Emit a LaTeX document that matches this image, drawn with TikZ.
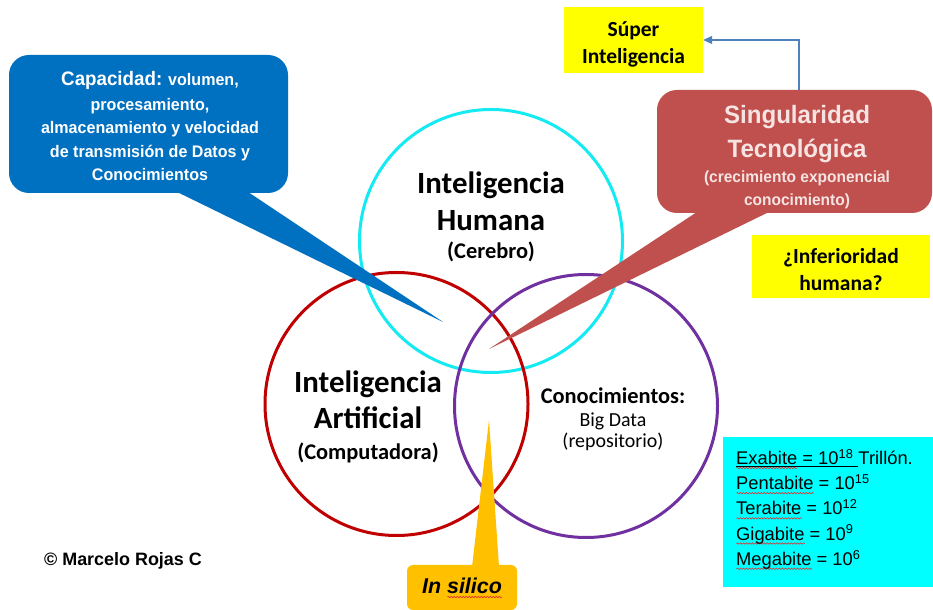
\documentclass[tikz,border=0pt]{standalone}
\usepackage{fontspec}
\setmainfont{Carlito}
\newfontfamily\arial{Liberation Sans}
\newfontfamily\arialn{Liberation Sans}[FakeStretch=0.96]
\usetikzlibrary{arrows.meta,decorations.pathmorphing}

\definecolor{cyanring}{HTML}{14EAF2}
\definecolor{redring}{HTML}{C00000}
\definecolor{purplering}{HTML}{7030A0}
\definecolor{capblue}{HTML}{0070C0}
\definecolor{singred}{HTML}{C0504D}
\definecolor{singtext}{HTML}{F6E4E3}
\definecolor{notebox}{HTML}{FFFF00}
\definecolor{databox}{HTML}{00FFFF}
\definecolor{silicobox}{HTML}{FFC000}
\definecolor{linkblue}{HTML}{4F81BD}
\definecolor{spellred}{HTML}{E03030}

\newcommand\fsz[2]{\fontsize{#1}{#2}\selectfont}
\newlength\spellw
\newcommand\spell[1]{\settowidth\spellw{#1}\rlap{\tikz[baseline=0pt]\draw[spellred,line width=0.6bp,decorate,
  decoration={snake,amplitude=0.7bp,segment length=3bp}] (0bp,-3.5bp) -- (\spellw,-3.5bp);}#1}
\newcommand\uline[1]{\settowidth\spellw{#1}\rlap{\rule[-2.5bp]{\spellw}{0.8bp}}#1}

\tikzset{
  ring/.style={circle,minimum size=263bp,inner sep=0pt,line width=3bp},
  bubble/.style={rounded corners=20bp,inner sep=0pt},
  notefill/.style={fill=notebox,inner sep=0pt,align=center,font=\bfseries\fsz{21.6}{26.5}},
}

\begin{document}
\begin{tikzpicture}
  %%
  \useasboundingbox[fill=white] (0bp,0bp) rectangle (933bp,610bp);
  % rings
  \node (Humana) at (491bp,369bp) [ring,draw=cyanring] {};
  \node (Artificial) at (396.5bp,206bp) [ring,draw=redring] {};
  \node (Datos) at (586bp,204bp) [ring,draw=purplering] {};
  \node (HumanaTxt) at (491bp,393bp) [align=center,inner sep=0pt,font=\bfseries\fsz{31}{37}]
    {Inteligencia\\Humana\\[-9bp]{\fsz{22.5}{27}(Cerebro)}};
  \node (ArtificialTxt) at (368bp,193bp) [align=center,inner sep=0pt,font=\bfseries\fsz{31}{36}]
    {Inteligencia\\Artificial\\[-5bp]{\fsz{22.5}{27}(Computadora)}};
  \node (DatosTxt) at (613bp,191bp) [align=center,inner sep=0pt,font=\fsz{20}{21}]
    {{\bfseries\fsz{22.5}{25}Conocimientos:}\\[2bp]Big Data\\(repositorio)};
  % callouts
  \node (Capacidad) at (148.5bp,486bp) [bubble,fill=capblue,minimum width=279bp,minimum height=138bp] {};
  \coordinate (capA) at (173bp,420bp);
  \coordinate (capB) at (245bp,420bp);
  \coordinate (capTip) at (443bp,288bp);
  \fill[capblue] (capA) -- (capTip) -- (capB) -- cycle;
  \node (CapacidadTxt) at (150bp,484bp) [align=center,inner sep=0pt,text=white,font=\arialn\bfseries\fsz{16.8}{23.5}]
    {{\fsz{19.6}{23.5}Capacidad:} volumen,\\[2bp]procesamiento,\\almacenamiento y velocidad\\de transmisión de Datos y\\Conocimientos};
  \node (Singularidad) at (794.5bp,458.5bp) [bubble,fill=singred,minimum width=275bp,minimum height=123bp] {};
  \coordinate (singA) at (700bp,400bp);
  \coordinate (singB) at (773bp,400bp);
  \coordinate (singTip) at (489bp,261bp);
  \fill[singred] (singA) -- (singTip) -- (singB) -- cycle;
  \node (SingularidadTxt) at (797bp,453bp) [align=center,inner sep=0pt,text=singtext,font=\arialn\bfseries\fsz{25.2}{35}]
    {Singularidad\\Tecnológica\\[-10bp]{\fsz{16.2}{24}(crecimiento exponencial}\\[-12bp]{\fsz{16.2}{24}conocimiento)}};
  \node (Silico) at (462bp,22.5bp) [bubble,rounded corners=6bp,fill=silicobox,minimum width=110bp,minimum height=45bp] {};
  \coordinate (silA) at (472bp,43bp);
  \coordinate (silB) at (499bp,43bp);
  \coordinate (silTip) at (489bp,190bp);
  \fill[silicobox] (silA) -- (silTip) -- (silB) -- cycle;
  \node (SilicoTxt) at (462bp,22bp) [inner sep=0pt,font=\arial\bfseries\itshape\fsz{21.5}{24}] {In \spell{silico}};
  % notes
  \node (Super) at (633.5bp,570bp) [notefill,minimum width=139bp,minimum height=66bp] {\rule{0pt}{24bp}Súper\\Inteligencia};
  \node (Inferioridad) at (841bp,343.5bp) [notefill,minimum width=178bp,minimum height=63bp] {\rule{0pt}{21bp}¿Inferioridad\\humana?};
  \draw [linkblue,line width=1.2bp,-{Triangle[length=9bp,width=8bp]}] ([xshift=4.5bp]Singularidad.north) |- (Super.east);
  \node (Unidades) at (828bp,98bp) [fill=databox,minimum width=210bp,minimum height=150bp] {};
  \node (UnidadesTxt) at (736bp,100.5bp) [anchor=west,align=left,inner sep=0pt,font=\arial\fsz{18.4}{25.3}]
    {\uline{\spell{Exabite} = 10\textsuperscript{18}\ }Trillón.\\
     \spell{Pentabite} = 10\textsuperscript{15}\\
     \spell{Terabite} = 10\textsuperscript{12}\\
     \spell{Gigabite} = 10\textsuperscript{9}\\
     \spell{Megabite} = 10\textsuperscript{6}};
  \node (Autor) at (123bp,49bp) [inner sep=0pt,font=\arial\bfseries\fsz{18}{20}] {© Marcelo Rojas C};
  %
\end{tikzpicture}
\end{document}
